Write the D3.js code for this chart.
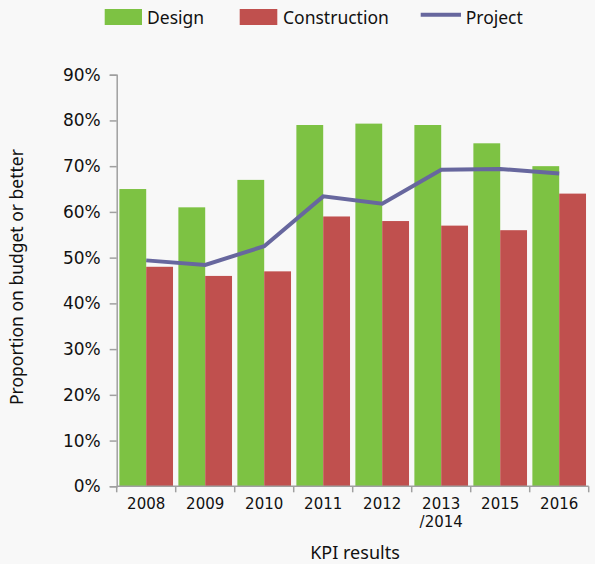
<!DOCTYPE html>
<html>
<head>
<meta charset="utf-8">
<script src="https://cdn.jsdelivr.net/npm/d3@7"></script>
<style>
  body { margin: 0; background: #f8f8f8; }
  svg { display: block; font-family: "Noto Sans", sans-serif; }
</style>
</head>
<body>
<div id="chart"></div>
<script>
const years = ["2008", "2009", "2010", "2011", "2012", "2013/2014", "2015", "2016"]
const design = [65, 61, 67, 79, 79.3, 79, 75, 70]
const construction = [48, 46, 47, 59, 58, 57, 56, 64]
const project = [49.4, 48.4, 52.5, 63.4, 61.8, 69.2, 69.4, 68.4]
const yTicks = [0, 10, 20, 30, 40, 50, 60, 70, 80, 90]

const width = 595, height = 564
const green = "#7dc243", red = "#c0504e", lineColor = "#67679e"
const numFont = '"DejaVu Sans", sans-serif'

const svg = d3.select('#chart').append('svg').attr('width', width).attr('height', height)
svg.append('rect').attr('width', width).attr('height', height).attr('fill', '#f8f8f8')

const x = d3.scaleBand().domain(years).range([116.7, 588.7]).paddingInner(0).paddingOuter(0)
const y = d3.scaleLinear().domain([0, 90]).range([486.3, 74.7])
const sub = d3.scaleBand().domain(["d", "c"]).range([0, x.bandwidth()]).paddingInner(0).paddingOuter(0.1)

// bars
const groups = svg.append('g').selectAll('g').data(years).join('g')
  .attr('transform', d => `translate(${x(d)},0)`)
groups.append('rect')
  .attr('x', sub("d")).attr('width', sub.bandwidth())
  .attr('y', (d, i) => y(design[i])).attr('height', (d, i) => y(0) - y(design[i]))
  .attr('fill', green)
groups.append('rect')
  .attr('x', sub("c")).attr('width', sub.bandwidth())
  .attr('y', (d, i) => y(construction[i])).attr('height', (d, i) => y(0) - y(construction[i]))
  .attr('fill', red)

// project line
const line = d3.line().x((d, i) => x(years[i]) + x.bandwidth() / 2).y(d => y(d))
svg.append('path').datum(project).attr('d', line)
  .attr('fill', 'none').attr('stroke', lineColor).attr('stroke-width', 4)

// y axis
const yAxis = svg.append('g').attr('transform', 'translate(116.7,0)')
  .call(d3.axisLeft(y).tickValues(yTicks).tickFormat(d => d + '%').tickSize(7).tickPadding(9))
yAxis.select('.domain').attr('stroke', '#a0a0a0').attr('stroke-width', 1.5)
yAxis.selectAll('.tick line').attr('stroke', '#a0a0a0').attr('stroke-width', 1.5)
yAxis.selectAll('text').attr('font-size', 17).attr('fill', '#111').attr('font-family', numFont)

// x axis: ticks on band boundaries
const xg = svg.append('g').attr('transform', `translate(0,${y(0)})`)
xg.append('line').attr('x1', x.range()[0]).attr('x2', x.range()[1]).attr('stroke', '#a0a0a0').attr('stroke-width', 1.5)
const bounds = years.map(d => x(d)).concat([x.range()[1]])
xg.selectAll('line.tk').data(bounds).join('line').attr('class', 'tk')
  .attr('x1', d => d).attr('x2', d => d).attr('y1', 0).attr('y2', 6)
  .attr('stroke', '#a0a0a0').attr('stroke-width', 1.5)
const xl = xg.selectAll('text').data(years).join('text')
  .attr('x', d => x(d) + x.bandwidth() / 2).attr('y', 23)
  .attr('text-anchor', 'middle').attr('font-size', 15).attr('fill', '#111').attr('font-family', numFont)
xl.each(function (d) {
  const parts = d.includes('/') ? [d.split('/')[0], '/' + d.split('/')[1]] : [d]
  d3.select(this).selectAll('tspan').data(parts).join('tspan')
    .attr('x', x(d) + x.bandwidth() / 2).attr('dy', (p, i) => i ? 18 : 0).text(p => p)
})

// axis titles
svg.append('text').attr('x', 355).attr('y', 559).attr('text-anchor', 'middle')
  .attr('font-size', 18).attr('fill', '#111').text('KPI results')
svg.append('text').attr('transform', 'translate(23,277) rotate(-90)').attr('text-anchor', 'middle')
  .attr('font-size', 17.5).attr('fill', '#111').text('Proportion on budget or better')

// legend
const legend = svg.append('g')
legend.append('rect').attr('x', 104.7).attr('y', 9).attr('width', 37.3).attr('height', 16).attr('fill', green)
legend.append('text').attr('x', 147).attr('y', 24).attr('font-size', 17.5).attr('fill', '#111').text('Design')
legend.append('rect').attr('x', 239.7).attr('y', 9).attr('width', 37.6).attr('height', 16).attr('fill', red)
legend.append('text').attr('x', 283).attr('y', 24).attr('font-size', 17.5).attr('fill', '#111').text('Construction')
legend.append('line').attr('x1', 420.7).attr('x2', 461).attr('y1', 14.7).attr('y2', 14.7)
  .attr('stroke', lineColor).attr('stroke-width', 4)
legend.append('text').attr('x', 465.7).attr('y', 24).attr('font-size', 17.5).attr('fill', '#111').text('Project')
</script>
</body>
</html>
